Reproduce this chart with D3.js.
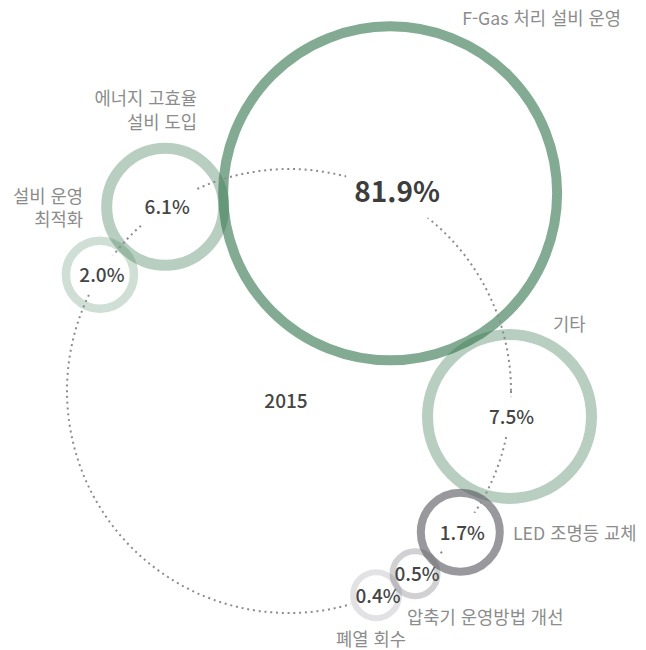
<!DOCTYPE html>
<html lang="ko">
<head>
<meta charset="utf-8">
<title>2015 감축 수단별 비중</title>
<script src="https://cdn.jsdelivr.net/npm/d3@7"></script>
<style>
  html, body { margin: 0; padding: 0; background: #ffffff; }
  svg { display: block; font-family: "Noto Sans CJK KR", "Noto Sans", sans-serif; }
</style>
</head>
<body>
<svg id="chart" width="646" height="650"></svg>
<script>
// Reduction measures and their share (%) in 2015
const categories = [
  "F-Gas 처리 설비 운영",
  "기타",
  "에너지 고효율 설비 도입",
  "설비 운영 최적화",
  "LED 조명등 교체",
  "압축기 운영방법 개선",
  "폐열 회수"
];
const shares = [81.9, 7.5, 6.1, 2.0, 1.7, 0.5, 0.4];
const labelLines = [
  ["F-Gas 처리 설비 운영"],
  ["기타"],
  ["에너지 고효율", "설비 도입"],
  ["설비 운영", "최적화"],
  ["LED 조명등 교체"],
  ["압축기 운영방법 개선"],
  ["폐열 회수"]
];
const yearLabel = "2015";

const items = categories.map((c, i) => ({ name: c, share: shares[i], lines: labelLines[i] }));

// ---- layout ----
const W = 646, H = 650;
const orbit = { cx: 289, cy: 391, r: 222 };
const deg = Math.PI / 180;

// position of each ring along the orbit (clockwise from 12 o'clock)
const angle = d3.scaleOrdinal()
  .domain(categories)
  .range([27.1, 96.6, 326.1, 301.6, 129.5, 145.4, 156.9].map(d => d * deg));

// ring radius and stroke width
const ringRadius = d3.scaleOrdinal().domain(categories)
  .range([167, 82, 58.5, 34, 39.5, 22.5, 23]);
const ringWidth = d3.scaleOrdinal().domain(categories)
  .range([10, 11, 11, 8.5, 8, 6, 6]);

// colours: green family for the larger measures, grey for the rest
const ringColor = d3.scaleOrdinal().domain(categories)
  .range(["#30734b", "#30734b", "#30734b", "#30734b", "#55555c", "#55555c", "#55555c"]);
const ringOpacity = d3.scaleOrdinal().domain(categories)
  .range([0.6, 0.35, 0.35, 0.23, 0.6, 0.27, 0.17]);

// category label placement relative to the ring centre: [dx, dy, anchor]
const labelPlace = d3.scaleOrdinal().domain(categories).range([
  [72, -168.4, "start"],
  [43.5, -85.5, "start"],
  [31.8, -101.7, "end"],
  [-16.9, -71.7, "end"],
  [52.7, 7.8, "start"],
  [-8, 50.3, "start"],
  [-40, 50.8, "start"]
]);

const pos = d => {
  const [x, y] = d3.pointRadial(angle(d.name), orbit.r);
  return [orbit.cx + x, orbit.cy + y];
};

const svg = d3.select("#chart");
const defs = svg.append("defs");
const mask = defs.append("mask")
  .attr("id", "orbit-gap")
  .attr("maskUnits", "userSpaceOnUse")
  .attr("x", 0).attr("y", 0).attr("width", W).attr("height", H);
mask.append("rect").attr("width", W).attr("height", H).attr("fill", "#fff");

// rings
svg.append("g").attr("class", "rings")
  .selectAll("circle")
  .data(items)
  .join("circle")
  .attr("cx", d => pos(d)[0])
  .attr("cy", d => pos(d)[1])
  .attr("r", d => ringRadius(d.name))
  .attr("fill", "none")
  .attr("stroke", d => ringColor(d.name))
  .attr("stroke-opacity", d => ringOpacity(d.name))
  .attr("stroke-width", d => ringWidth(d.name));

// dotted orbit through the ring centres
svg.append("circle")
  .attr("class", "orbit")
  .attr("cx", orbit.cx)
  .attr("cy", orbit.cy)
  .attr("r", orbit.r)
  .attr("fill", "none")
  .attr("stroke", "#8c8c8c")
  .attr("stroke-width", 2)
  .attr("stroke-dasharray", "2 3.8")
  .attr("mask", "url(#orbit-gap)");

// share values in the ring centres
const fmt = d3.format(".1f");
const big = d => d.share > 50;
const values = svg.append("g").attr("class", "values")
  .selectAll("text")
  .data(items)
  .join("text")
  .attr("x", d => pos(d)[0] + (big(d) ? 7 : 2))
  .attr("y", d => pos(d)[1])
  .attr("dy", d => big(d) ? "0.3em" : "0.4em")
  .attr("text-anchor", "middle")
  .attr("fill", d => big(d) ? "#3d3d3d" : "#454545")
  .attr("font-size", d => big(d) ? 28 : 19)
  .attr("font-weight", d => big(d) ? 700 : 500)
  .text(d => fmt(d.share) + "%");

// cut the orbit around each value label
values.each(function (d) {
  const b = this.getBBox();
  const pad = big(d) ? 8 : 5;
  mask.append("rect")
    .attr("x", b.x - pad).attr("y", b.y - pad)
    .attr("width", b.width + pad * 2).attr("height", b.height + pad * 2)
    .attr("fill", "#000");
});

// category names
const lineH = 23.5;
svg.append("g").attr("class", "names")
  .selectAll("text")
  .data(items)
  .join("text")
  .attr("x", d => pos(d)[0] + labelPlace(d.name)[0])
  .attr("y", d => pos(d)[1] + labelPlace(d.name)[1])
  .attr("text-anchor", d => labelPlace(d.name)[2])
  .attr("fill", "#8c8c8c")
  .attr("font-size", 17.7)
  .each(function (d) {
    const t = d3.select(this);
    const x = t.attr("x");
    d.lines.forEach((line, i) => {
      t.append("tspan").attr("x", x).attr("dy", i === 0 ? 0 : lineH).text(line);
    });
  });

// year in the middle of the orbit
svg.append("text")
  .attr("x", orbit.cx - 3)
  .attr("y", orbit.cy + 17)
  .attr("text-anchor", "middle")
  .attr("fill", "#454545")
  .attr("font-size", 19)
  .attr("font-weight", 500)
  .text(yearLabel);
</script>
</body>
</html>
